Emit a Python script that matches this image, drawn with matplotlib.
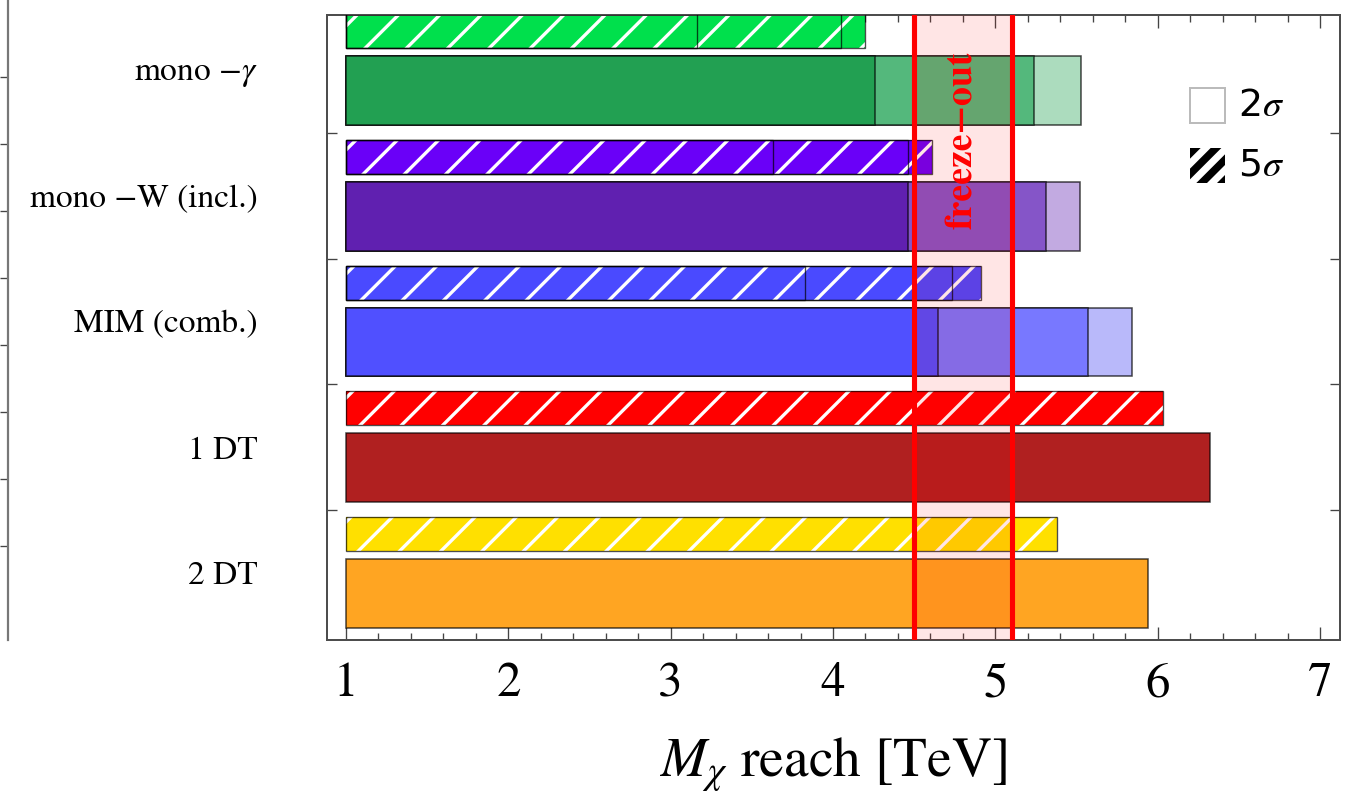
import numpy as np
import matplotlib

matplotlib.use("Agg")
import matplotlib.pyplot as plt
from matplotlib.patches import Rectangle
from matplotlib.ticker import MultipleLocator, FixedLocator

# reach per channel (TeV)
channels = ["mono $-\\gamma$", "mono \u2212W (incl.)", "MIM (comb.)", "1 DT", "2 DT"]
reach_2sigma = [[4.26, 5.24, 5.53], [4.46, 5.31, 5.52], [4.645, 5.57, 5.84], [6.32], [5.94]]
reach_5sigma = [[3.16, 4.05, 4.20], [3.63, 4.46, 4.61], [3.83, 4.73, 4.91], [6.03], [5.38]]
freeze_out = (4.5, 5.1)
legend_labels = ["2$\\sigma$", "5$\\sigma$"]

colors_2sigma = [
    ["#22a052", "#54b87c", "#acdcbe"],
    ["#6020b0", "#8555c8", "#c2aae1"],
    ["#5050ff", "#7878ff", "#b9b9fa"],
    ["#b02020"],
    ["#ffa522"],
]
colors_5sigma = ["#00e04c", "#6a00f8", "#4a4aff", "#ff0000", "#ffe000"]

# hatch spacing follows the dpi, so pick the dpi for the stripes and scale
# every point size with K
DPI = 124
K = 160 / DPI

plt.rcParams["mathtext.fontset"] = "stix"
plt.rcParams["font.family"] = ["STIXGeneral", "DejaVu Serif"]
plt.rcParams["hatch.linewidth"] = 1.5 * K

fig = plt.figure(figsize=(1356 / DPI, 801 / DPI), dpi=DPI)
ax = fig.add_axes([327 / 1356, 1 - 640 / 801, 1013 / 1356, 625 / 801])

ypos = np.arange(len(channels))[::-1]
edge = (0, 0, 0, 0.7)

for i, y in enumerate(ypos):
    # 2 sigma: overlapping bars, longest (lightest) drawn first
    for val, col in reversed(list(zip(reach_2sigma[i], colors_2sigma[i]))):
        ax.barh(y - 0.163, val - 1, left=1, height=0.548, color=col,
                edgecolor=edge, linewidth=0.7 * K, zorder=2)
    # 5 sigma: hatched bars
    for val in sorted(reach_5sigma[i], reverse=True):
        ax.barh(y + 0.31, val - 1, left=1, height=0.27, color=colors_5sigma[i],
                hatch="/", edgecolor="white", linewidth=0, zorder=2)
        ax.barh(y + 0.31, val - 1, left=1, height=0.27, fill=False,
                edgecolor=edge, linewidth=0.6 * K, zorder=3)

# freeze-out band
ax.axvspan(*freeze_out, color="red", alpha=0.1, lw=0, zorder=5)
for xv in freeze_out:
    ax.axvline(xv, color="red", lw=2.3 * K, zorder=6)
ax.text(np.mean(freeze_out), 3.44, "freeze\u2212out", rotation=90, color="red",
        fontsize=17 * K, fontweight="bold", ha="center", va="center", zorder=7)

ax.set_xlim(0.883, 7.123)
ax.set_ylim(-0.532, 4.437)

ax.xaxis.set_major_locator(MultipleLocator(1))
ax.xaxis.set_minor_locator(MultipleLocator(0.2))
ax.tick_params(axis="x", which="both", direction="in", top=True, bottom=True,
               color="#444444", width=0.6 * K)
ax.tick_params(axis="x", which="major", length=5.9 * K, labelsize=22 * K, pad=10 * K)
ax.tick_params(axis="x", which="minor", length=3.1 * K)

ax.yaxis.set_major_locator(FixedLocator(ypos[:-1] - 0.5))
ax.yaxis.set_minor_locator(FixedLocator(ypos))
ax.yaxis.set_major_formatter(plt.NullFormatter())
ax.set_yticks(ypos, channels, minor=True)
ax.tick_params(axis="y", which="major", direction="in", left=True, right=True,
               length=4.5 * K, color="#444444", width=0.6 * K)
ax.tick_params(axis="y", which="minor", length=0, labelsize=15 * K, pad=31 * K)

ax.set_xlabel("$M_\\chi$ reach [TeV]", fontsize=25 * K, labelpad=13 * K)

for sp in ax.spines.values():
    sp.set_color("#4d4d4d")
    sp.set_linewidth(0.9 * K)

# legend
leg_x, leg_w, leg_h = 0.852, 35 / 1013, 35 / 625
for k, lab in enumerate(legend_labels):
    top = 0.883 - k * 0.096
    if k == 0:
        r = Rectangle((leg_x, top - leg_h), leg_w, leg_h, transform=ax.transAxes,
                      facecolor="white", edgecolor="#bbbbbb", lw=0.9 * K, zorder=8)
    else:
        r = Rectangle((leg_x, top - leg_h), leg_w, leg_h, transform=ax.transAxes,
                      facecolor="white", edgecolor="black", hatch="//", lw=0, zorder=8)
        if hasattr(r, "set_hatch_linewidth"):
            r.set_hatch_linewidth(3.4 * K)
    ax.add_patch(r)
    ax.text(0.899, top - leg_h / 2, lab, transform=ax.transAxes, fontsize=17 * K,
            family="DejaVu Sans", ha="left", va="center", zorder=8)

# frame of the neighbouring panel at the left edge
ax2 = fig.add_axes([0, 1 - 640 / 801, 8 / 1356, 640 / 801])
ax2.set_xlim(0, 1)
ax2.set_ylim(640, 0)
for name in ("left", "top", "bottom"):
    ax2.spines[name].set_visible(False)
ax2.spines["right"].set_color("#777777")
ax2.spines["right"].set_linewidth(1.0 * K)
ax2.set_xticks([])
ax2.yaxis.tick_right()
ax2.set_yticks(np.arange(77, 600, 67))
ax2.tick_params(axis="y", direction="in", length=3.6 * K, labelright=False,
                color="#444444", width=0.6 * K)
ax2.patch.set_visible(False)

fig.savefig("out.png", dpi=DPI)
